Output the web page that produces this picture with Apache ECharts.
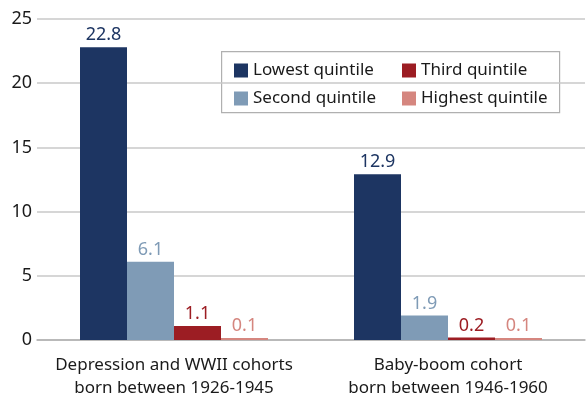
<!DOCTYPE html>
<html><head><meta charset="utf-8">
<script src="https://cdn.jsdelivr.net/npm/echarts@6/dist/echarts.min.js"></script>
<style>html,body{margin:0;padding:0;background:#fff}#c{width:587px;height:400px}</style>
</head><body><div id="c"></div>
<script>
const categories = ['Depression and WWII cohorts\nborn between 1926-1945', 'Baby-boom cohort\nborn between 1946-1960'];
const seriesNames = ['Lowest quintile', 'Second quintile', 'Third quintile', 'Highest quintile'];
const lowest = [22.8, 12.9];
const second = [6.1, 1.9];
const third = [1.1, 0.2];
const highest = [0.1, 0.1];
const colors = ['#1d3562', '#7f9bb6', '#9c1d23', '#d5867f'];
const yTicks = {min: 0, max: 25, interval: 5};

const font = 'Noto Sans';
const values = [lowest, second, third, highest];
const chart = echarts.init(document.getElementById('c'), null, {renderer: 'canvas'});
chart.setOption({
  animation: false,
  textStyle: {fontFamily: font},
  grid: {left: 37, right: 2, top: 19, bottom: 60},
  xAxis: {
    type: 'category', data: categories,
    axisLine: {lineStyle: {color: '#b0b0b0', width: 1.5}},
    axisTick: {show: false},
    axisLabel: {color: '#1a1a1a', fontSize: 17, lineHeight: 23, margin: 14, interval: 0, fontFamily: font}
  },
  yAxis: {
    type: 'value', min: yTicks.min, max: yTicks.max, interval: yTicks.interval,
    axisLine: {show: false}, axisTick: {show: false},
    splitLine: {lineStyle: {color: '#c8c8c8', width: 1.5}},
    axisLabel: {color: '#1a1a1a', fontSize: 18, margin: 5, fontFamily: font}
  },
  legend: [
    {data: [seriesNames[0], seriesNames[1]], orient: 'vertical', left: 229, top: 57, itemGap: 11,
     itemWidth: 14, itemHeight: 14, icon: 'rect', textStyle: {fontSize: 17, color: '#1a1a1a', fontFamily: font}},
    {data: [seriesNames[2], seriesNames[3]], orient: 'vertical', left: 397, top: 57, itemGap: 11,
     itemWidth: 14, itemHeight: 14, icon: 'rect', textStyle: {fontSize: 17, color: '#1a1a1a', fontFamily: font}}
  ],
  graphic: [{type: 'rect', left: 221, top: 51, z: 0,
    shape: {width: 338, height: 61}, style: {fill: '#fff', stroke: '#b0b0b0', lineWidth: 1.2}}],
  series: seriesNames.map((n, i) => ({
    name: n, type: 'bar', data: values[i],
    itemStyle: {color: colors[i]},
    barWidth: 47, barGap: '0%', barCategoryGap: '31%', barMinHeight: 2,
    label: {show: true, position: 'top', distance: 3, color: colors[i], fontSize: 18, fontFamily: font,
      formatter: p => p.value.toFixed(1)}
  }))
});
</script></body></html>
